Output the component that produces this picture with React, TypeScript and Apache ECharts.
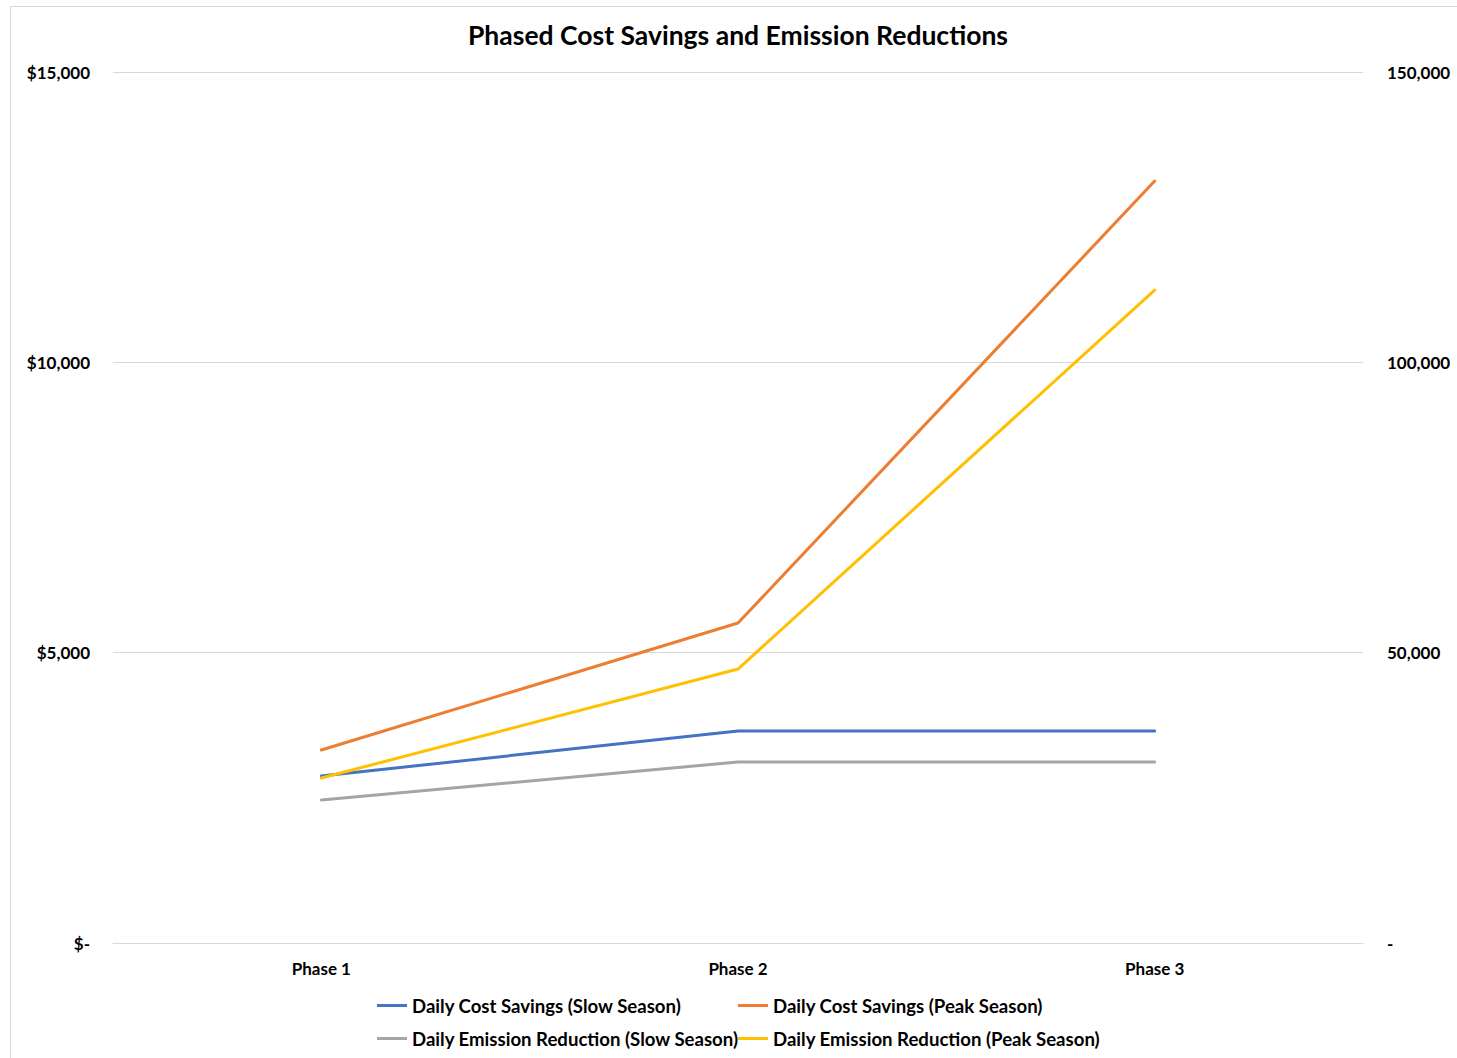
import React, { useEffect, useRef } from "react";
import * as echarts from "echarts";

const categories = ["Phase 1", "Phase 2", "Phase 3"];
const costSlow = [2876, 3650, 3650];
const costPeak = [3324, 5510, 13122];
const emissionSlow = [24630, 31170, 31170];
const emissionPeak = [28410, 47180, 112450];

const TITLE = "Phased Cost Savings and Emission Reductions";
const FONT = "Lato, Carlito, Calibri, 'Noto Sans', sans-serif";

export default function App() {
  const ref = useRef<HTMLDivElement>(null);
  useEffect(() => {
    if (!ref.current) return;
    const chart = echarts.init(ref.current, undefined, { renderer: "svg" });
    const fmtLeft = (v: number) => (v === 0 ? "$-" : "$" + v.toLocaleString("en-US"));
    const fmtRight = (v: number) => (v === 0 ? "-" : v.toLocaleString("en-US"));
    const legendText = { fontFamily: FONT, fontSize: 18.6, fontWeight: "bold" as const, color: "#000" };
    chart.setOption({
      animation: false,
      backgroundColor: "#fff",
      textStyle: { fontFamily: FONT },
      graphic: [
        {
          type: "rect",
          shape: { x: 10.5, y: 6.5, width: 1470, height: 1070 },
          style: { fill: "none", stroke: "#d9d9d9", lineWidth: 1 },
          silent: true,
        },
        {
          type: "text",
          x: 738,
          y: 35,
          style: {
            text: TITLE,
            fontFamily: FONT,
            fontSize: 26.5,
            fontWeight: "bold",
            fill: "#000",
            align: "center",
            verticalAlign: "middle",
          },
          silent: true,
        },
      ],
      legend: [
        {
          orient: "vertical",
          left: 377,
          top: 996,
          itemGap: 14,
          itemWidth: 30,
          itemHeight: 3,
          icon: "rect",
          data: ["Daily Cost Savings (Slow Season)", "Daily Emission Reduction (Slow Season)"],
          textStyle: legendText,
          padding: 0,
        },
        {
          orient: "vertical",
          left: 738,
          top: 996,
          itemGap: 14,
          itemWidth: 30,
          itemHeight: 3,
          icon: "rect",
          data: ["Daily Cost Savings (Peak Season)", "Daily Emission Reduction (Peak Season)"],
          textStyle: legendText,
          padding: 0,
        },
      ],
      grid: { left: 113, right: 94, top: 72, bottom: 115, containLabel: false },
      xAxis: {
        type: "category",
        data: categories,
        boundaryGap: true,
        axisLine: { lineStyle: { color: "#d9d9d9", width: 1 } },
        axisTick: { show: false },
        axisLabel: { fontFamily: FONT, fontSize: 17, fontWeight: "bold", color: "#000", margin: 17 },
      },
      yAxis: [
        {
          type: "value",
          min: 0,
          max: 15000,
          interval: 5000,
          axisLine: { show: false },
          axisTick: { show: false },
          splitLine: { lineStyle: { color: "#d9d9d9", width: 1 } },
          axisLabel: { formatter: fmtLeft, fontFamily: FONT, fontSize: 17, fontWeight: "bold", color: "#000", margin: 23 },
        },
        {
          type: "value",
          min: 0,
          max: 150000,
          interval: 50000,
          position: "right",
          axisLine: { show: false },
          axisTick: { show: false },
          splitLine: { show: false },
          axisLabel: { formatter: fmtRight, fontFamily: FONT, fontSize: 17, fontWeight: "bold", color: "#000", margin: 24 },
        },
      ],
      series: [
        {
          name: "Daily Cost Savings (Slow Season)",
          type: "line",
          yAxisIndex: 0,
          data: costSlow,
          symbol: "none",
          color: "#4472C4",
          lineStyle: { width: 3, color: "#4472C4", cap: "round" },
        },
        {
          name: "Daily Cost Savings (Peak Season)",
          type: "line",
          yAxisIndex: 0,
          data: costPeak,
          symbol: "none",
          color: "#ED7D31",
          lineStyle: { width: 3, color: "#ED7D31", cap: "round" },
        },
        {
          name: "Daily Emission Reduction (Slow Season)",
          type: "line",
          yAxisIndex: 1,
          data: emissionSlow,
          symbol: "none",
          color: "#A5A5A5",
          lineStyle: { width: 3, color: "#A5A5A5", cap: "round" },
        },
        {
          name: "Daily Emission Reduction (Peak Season)",
          type: "line",
          yAxisIndex: 1,
          data: emissionPeak,
          symbol: "none",
          color: "#FFC000",
          lineStyle: { width: 3, color: "#FFC000", cap: "round" },
        },
      ],
    });
    return () => chart.dispose();
  }, []);
  return (
    <div
      ref={ref}
      style={{ position: "absolute", left: 0, top: 0, width: 1457, height: 1058 }}
    />
  );
}
